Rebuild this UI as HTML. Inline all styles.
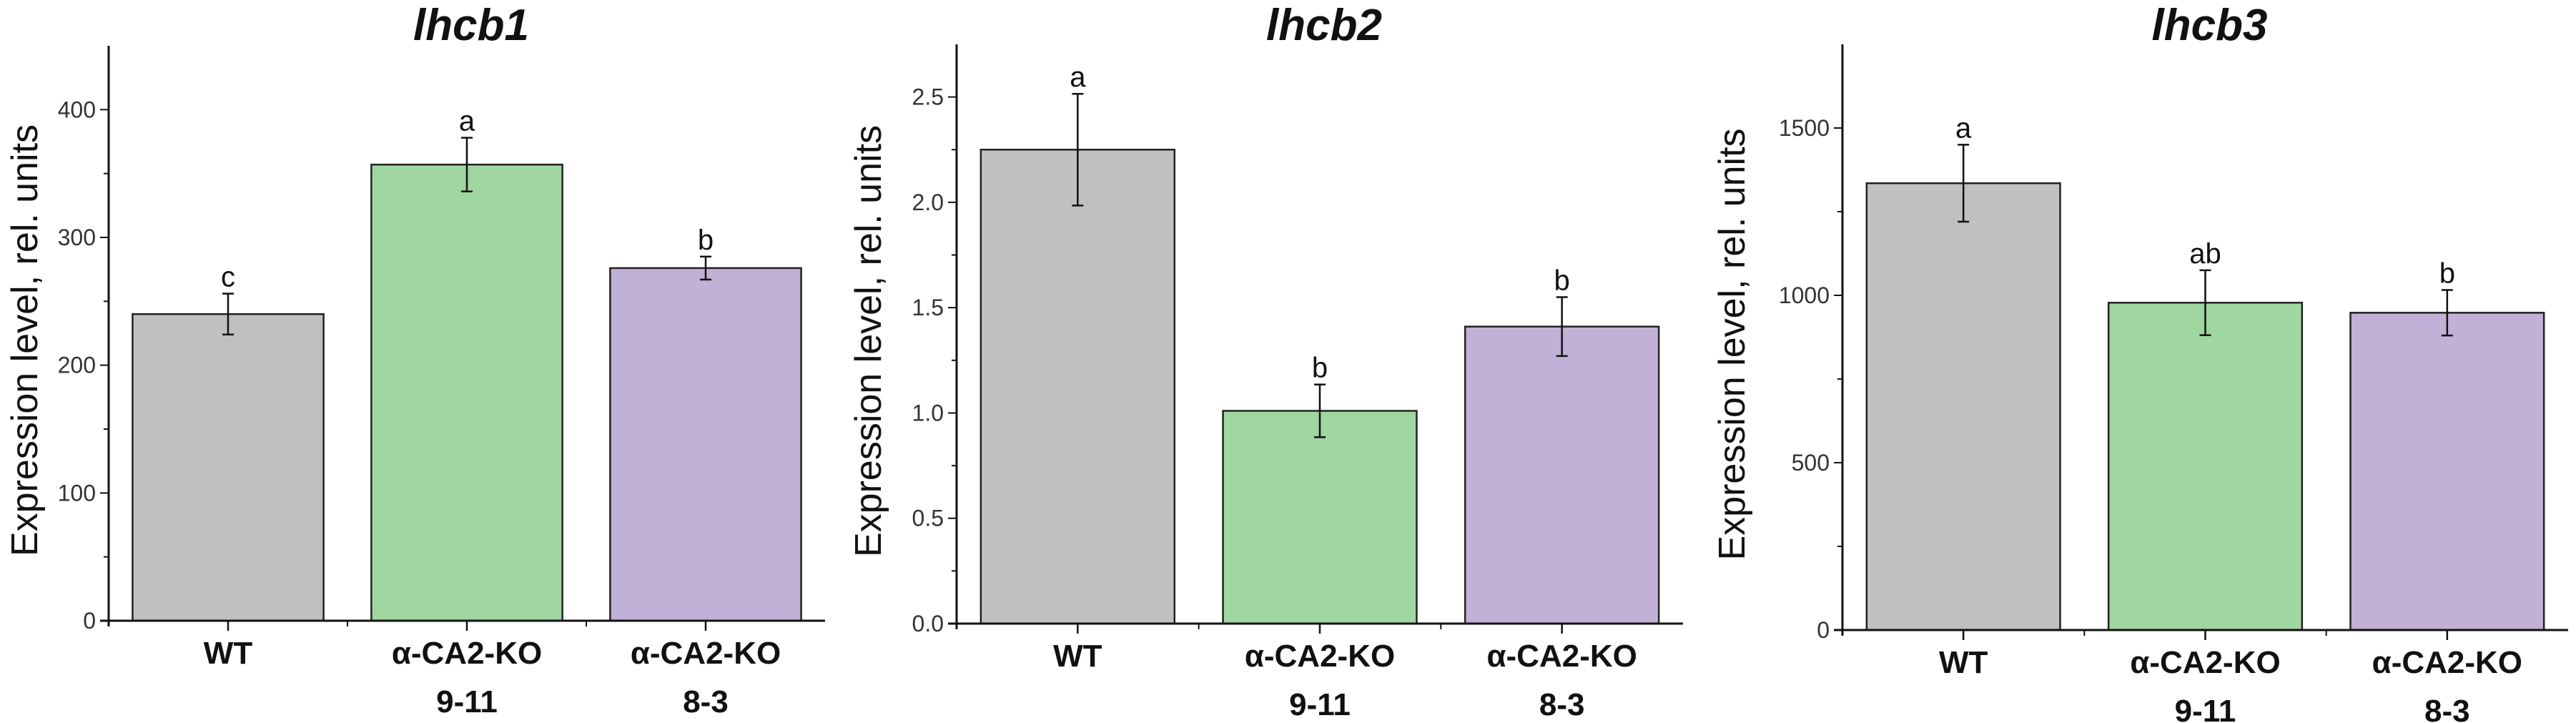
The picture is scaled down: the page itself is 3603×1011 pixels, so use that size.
<!DOCTYPE html>
<html><head><meta charset="utf-8">
<style>
html,body{margin:0;padding:0;background:#fff;}
svg{display:block;}
text{font-family:"Liberation Sans",Arial,sans-serif;}
</style></head>
<body>
<svg id="fig" width="3603" height="1011" viewBox="0 0 3603 1011" xmlns="http://www.w3.org/2000/svg"></svg>
<script>
// Shared categories
const categories = [["WT"], ["\u03b1-CA2-KO", "9-11"], ["\u03b1-CA2-KO", "8-3"]];
const barColors = ["#c0c0c0", "#a0d6a0", "#c1b1d6"];

// Panel 1: lhcb1
const p1Values = [240, 357, 276];
const p1Errors = [16, 21, 9];
const p1Letters = ["c", "a", "b"];
const p1Ticks = [0, 100, 200, 300, 400];
const p1TickLabels = ["0", "100", "200", "300", "400"];

// Panel 2: lhcb2
const p2Values = [2.25, 1.01, 1.41];
const p2Errors = [0.265, 0.125, 0.14];
const p2Letters = ["a", "b", "b"];
const p2Ticks = [0, 0.5, 1.0, 1.5, 2.0, 2.5];
const p2TickLabels = ["0.0", "0.5", "1.0", "1.5", "2.0", "2.5"];

// Panel 3: lhcb3
const p3Values = [1335, 978, 948];
const p3Errors = [115, 97, 68];
const p3Letters = ["a", "ab", "b"];
const p3Ticks = [0, 500, 1000, 1500];
const p3TickLabels = ["0", "500", "1000", "1500"];

const svg = document.getElementById('fig');
const NS = "http://www.w3.org/2000/svg";
function mk(tag, attrs, parent){
  const e = document.createElementNS(NS, tag);
  for (const k in attrs) e.setAttribute(k, attrs[k]);
  (parent||svg).appendChild(e);
  return e;
}

function panel(cfg){
  const g = mk('g', {});
  
  
  const x0 = cfg.x0, x1 = cfg.x1, y0 = cfg.y0, yTop = cfg.yTop;
  const yScale = v => y0 - (v / cfg.max) * (y0 - yTop);
  const band = (x1 - x0) / categories.length;
  const xCenter = i => x0 + band * (i + 0.5);
  const bw = band * 0.8;

  cfg.values.forEach((v, i) => {
    const r = mk('rect', {x: xCenter(i) - bw/2, y: yScale(v), width: bw, height: y0 - yScale(v),
      fill: barColors[i], stroke: "#222", "stroke-width": 2.5}, g);
    
    
    const e = cfg.errors[i];
    const eg = mk('g', {stroke: "#111", "stroke-width": 2.5}, g);
    
    
    mk('line', {x1: xCenter(i), x2: xCenter(i), y1: yScale(v+e), y2: yScale(v-e)}, eg);
    mk('line', {x1: xCenter(i)-8, x2: xCenter(i)+8, y1: yScale(v+e), y2: yScale(v+e)}, eg);
    mk('line', {x1: xCenter(i)-8, x2: xCenter(i)+8, y1: yScale(v-e), y2: yScale(v-e)}, eg);
    const t = mk('text', {x: xCenter(i), y: yScale(v+e) - 10, "font-size": 40, "text-anchor": "middle", fill: "#111"}, g);
    t.textContent = cfg.letters[i];
    
    
    categories[i].forEach((line, j) => {
      const lt = mk('text', {x: xCenter(i), y: y0 + 60 + j*68, "font-size": 44, "font-weight": "bold", "text-anchor": "middle", fill: "#111"}, g);
      lt.textContent = line;
      
      
    });
    mk('line', {x1: xCenter(i), x2: xCenter(i), y1: y0, y2: y0 + 14, stroke: "#111", "stroke-width": 2.5}, g);
    if (i > 0) mk('line', {x1: x0 + band*i, x2: x0 + band*i, y1: y0, y2: y0 + 8, stroke: "#111", "stroke-width": 2}, g);
  });

  const ax = mk('g', {stroke: "#111", "stroke-width": 3}, g);
  
  
  mk('line', {x1: x0, x2: x0, y1: yTop, y2: y0 + 8}, ax);
  mk('line', {x1: x0 - 12, x2: x1, y1: y0, y2: y0}, ax);
  cfg.ticks.forEach((tv, i) => {
    mk('line', {x1: x0 - 12, x2: x0, y1: yScale(tv), y2: yScale(tv), stroke: "#111", "stroke-width": 2}, g);
    const lt = mk('text', {x: x0 - 18, y: yScale(tv) + 11, "font-size": 32, "text-anchor": "end", fill: "#333"}, g);
    lt.textContent = cfg.tickLabels[i];
    
    
    const mid = tv + cfg.minor;
    if (mid < cfg.max) mk('line', {x1: x0 - 7, x2: x0, y1: yScale(mid), y2: yScale(mid), stroke: "#111", "stroke-width": 2}, g);
  });

  const yl = mk('text', {x: 0, y: 0, "font-size": 52, "text-anchor": "middle", fill: "#111",
    transform: `translate(${cfg.ylx},${(yTop + y0)/2 + 10}) rotate(-90)`}, g);
  yl.textContent = "Expression level, rel. units";
  
  

  const tt = mk('text', {x: (x0 + x1)/2 + 6, y: 56, "font-size": 62, "font-weight": "bold", "font-style": "italic", "text-anchor": "middle", fill: "#111"}, g);
  tt.textContent = cfg.title;
  
  
}

panel({id: "lhcb1", title: "lhcb1", x0: 152, x1: 1154, y0: 868, yTop: 64, max: 450,
  values: p1Values, errors: p1Errors, letters: p1Letters, ticks: p1Ticks, tickLabels: p1TickLabels, minor: 50, ylx: 52});
panel({id: "lhcb2", title: "lhcb2", x0: 1338, x1: 2354, y0: 872, yTop: 62, max: 2.75,
  values: p2Values, errors: p2Errors, letters: p2Letters, ticks: p2Ticks, tickLabels: p2TickLabels, minor: 0.25, ylx: 1232});
panel({id: "lhcb3", title: "lhcb3", x0: 2577, x1: 3592, y0: 881, yTop: 62, max: 1750,
  values: p3Values, errors: p3Errors, letters: p3Letters, ticks: p3Ticks, tickLabels: p3TickLabels, minor: 250, ylx: 2440});
</script>
</body></html>
